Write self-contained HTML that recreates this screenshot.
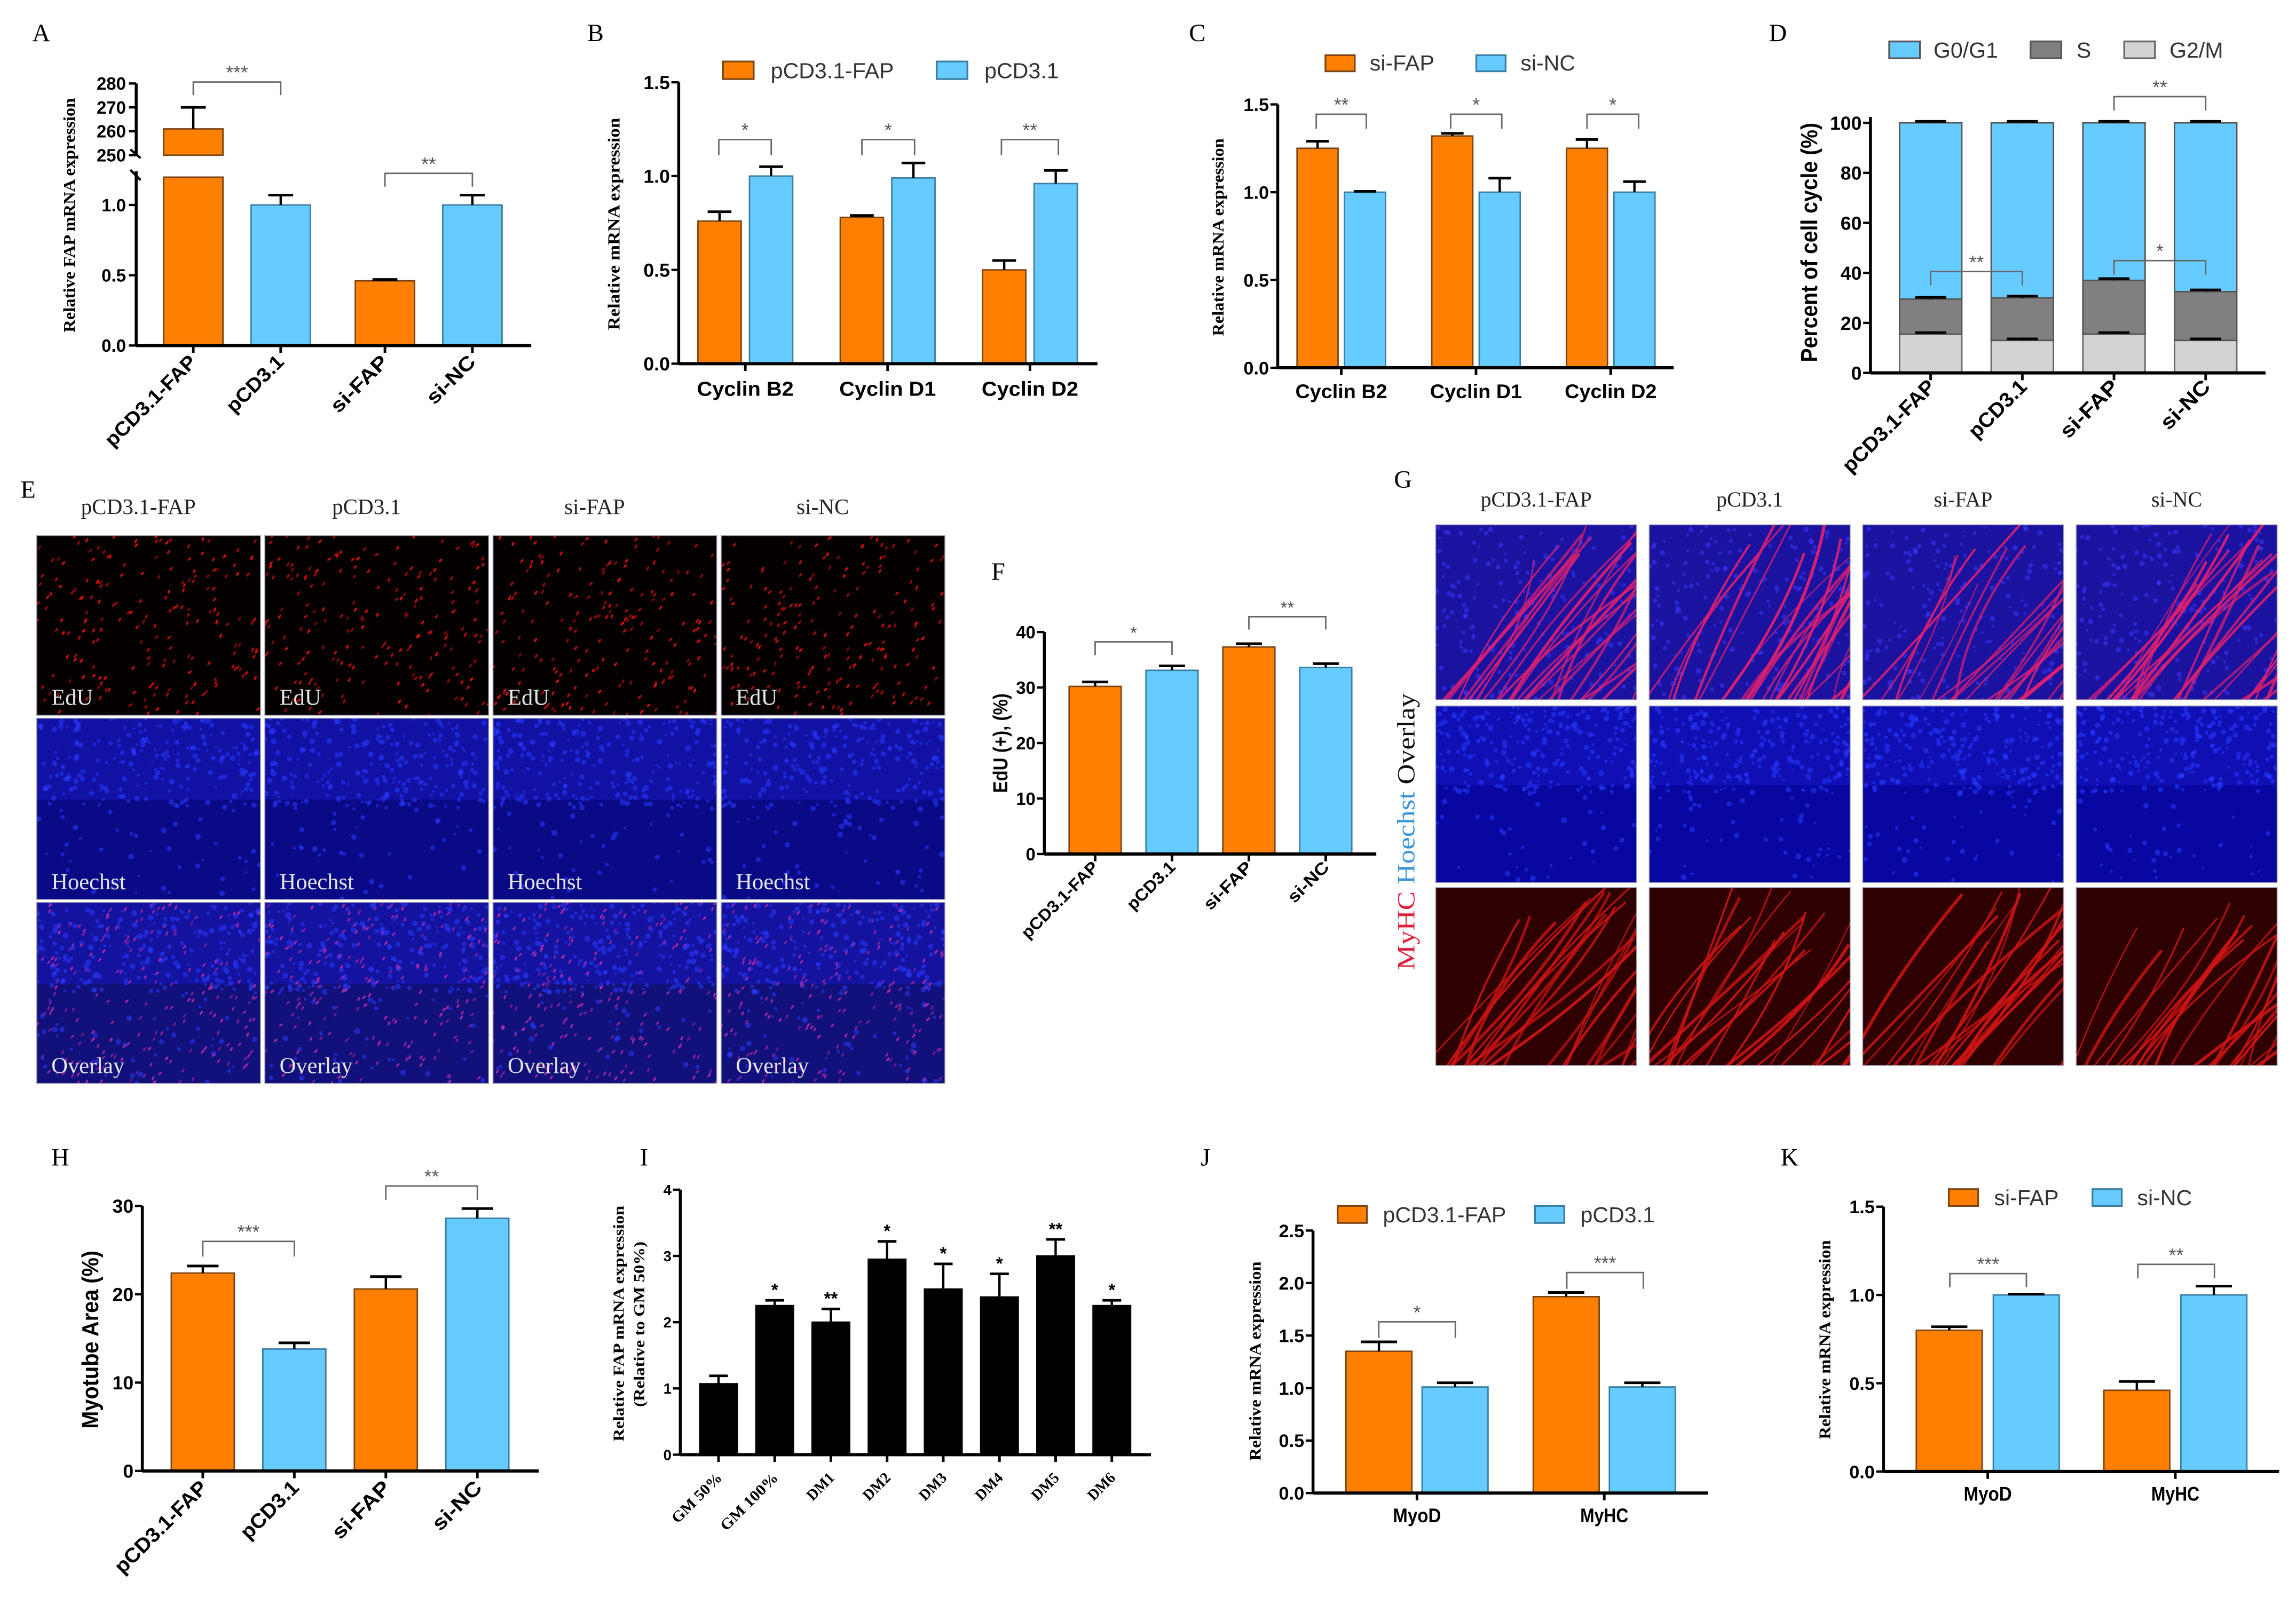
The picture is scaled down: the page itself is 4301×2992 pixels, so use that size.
<!DOCTYPE html>
<html><head><meta charset="utf-8"><title>FAP figure</title>
<style>html,body{margin:0;padding:0;background:#fff;}svg{display:block;}</style></head>
<body>
<svg id="fig" xmlns="http://www.w3.org/2000/svg" width="4301" height="2992" viewBox="0 0 1568 1090.8" preserveAspectRatio="none">
<rect x="0" y="0" width="1568" height="1091" fill="#fff"/>
</svg>
<script>
// ===== Panel data =====
const aCategories=["pCD3.1-FAP","pCD3.1","si-FAP","si-NC"];
const aValues=[261,1.0,0.46,1.0];
const aErrors=[9,0.07,0.01,0.07];
const aLowerTicks=[0,0.5,1.0];
const aUpperTicks=[250,260,270,280];

const bCategories=["Cyclin B2","Cyclin D1","Cyclin D2"];
const bSeries1=[0.76,0.78,0.5];
const bErr1=[0.05,0.01,0.05];
const bSeries2=[1.0,0.99,0.96];
const bErr2=[0.05,0.08,0.07];
const bTicks=[0,0.5,1.0,1.5];

const cCategories=["Cyclin B2","Cyclin D1","Cyclin D2"];
const cSeries1=[1.25,1.32,1.25];
const cErr1=[0.04,0.015,0.05];
const cSeries2=[1.0,1.0,1.0];
const cErr2=[0.005,0.08,0.06];
const cTicks=[0,0.5,1.0,1.5];

const dCategories=["pCD3.1-FAP","pCD3.1","si-FAP","si-NC"];
const dG2M=[15.5,13,15.5,13];
const dS=[14,17,21.5,19.5];
const dG0G1=[70.5,70,63,67.5];
const dTicks=[0,20,40,60,80,100];

const fCategories=["pCD3.1-FAP","pCD3.1","si-FAP","si-NC"];
const fValues=[30.2,33.1,37.3,33.6];
const fErrors=[0.8,0.8,0.6,0.7];
const fTicks=[0,10,20,30,40];

const hCategories=["pCD3.1-FAP","pCD3.1","si-FAP","si-NC"];
const hValues=[22.4,13.8,20.6,28.6];
const hErrors=[0.8,0.7,1.4,1.1];
const hTicks=[0,10,20,30];

const iCategories=["GM 50%","GM 100%","DM1","DM2","DM3","DM4","DM5","DM6"];
const iValues=[1.07,2.25,2.0,2.95,2.5,2.38,3.0,2.25];
const iErrors=[0.12,0.08,0.2,0.27,0.38,0.35,0.25,0.08];
const iStars=["","*","**","*","*","*","**","*"];
const iTicks=[0,1,2,3,4];

const jCategories=["MyoD","MyHC"];
const jSeries1=[1.35,1.87];
const jErr1=[0.09,0.04];
const jSeries2=[1.01,1.01];
const jErr2=[0.04,0.04];
const jTicks=[0,0.5,1.0,1.5,2.0,2.5];

const kCategories=["MyoD","MyHC"];
const kSeries1=[0.80,0.46];
const kErr1=[0.02,0.05];
const kSeries2=[1.0,1.0];
const kErr2=[0.005,0.05];
const kTicks=[0,0.5,1.0,1.5];

// ===== helpers =====
const NS="http://www.w3.org/2000/svg";
const svg=document.getElementById('fig');
const SANS='"Liberation Sans", Arial, sans-serif';
const SERIF='"Liberation Serif", "Times New Roman", serif';
const OR='#FF8000', ORS='#7a4416', BL='#66CCFF', BLS='#3a7ea3';
function mk(tag,attrs,name,parent){
  const el=document.createElementNS(NS,tag);
  for(const k in attrs) el.setAttribute(k,attrs[k]);
  
  
  (parent||svg).appendChild(el);
  return el;
}
function group(name){return mk('g',{},name);}
function ln(p,x1,y1,x2,y2,w,c,name){return mk('line',{x1,y1,x2,y2,stroke:c||'#000','stroke-width':w||1},name,p);}
function tx(p,x,y,s,fs,o,name){const el=mk('text',Object.assign({x,y,'font-size':fs,'font-family':SANS},o||{}),name,p);el.textContent=s;return el;}
function bar(p,xc,w,yTop,yBot,fill,stroke,name){return mk('rect',{x:xc-w/2,y:Math.min(yTop,yBot),width:w,height:Math.abs(yBot-yTop),fill,stroke,'stroke-width':1},name,p);}
function err(p,xc,yTop,yErr,cap,name){
  const g=mk('g',{},name,p);
  ln(g,xc,yTop,xc,yErr,1.6,'#000','error-stem');
  ln(g,xc-cap/2,yErr,xc+cap/2,yErr,1.8,'#000','error-cap');
}
function axisY(p,x,yTop,yBot,ticks,yf,fmt,fs,name){
  const g=mk('g',{},name,p);
  ln(g,x,yTop,x,yBot,2,'#000','y-axis-line');
  ticks.forEach(t=>{
    ln(g,x-5,yf(t),x,yf(t),1.6,'#000','y-tick');
    tx(g,x-6,yf(t)+fs*0.36,fmt(t),fs,{'text-anchor':'end','font-weight':'bold'},'y-tick-label');
  });
  return g;
}
function axisX(p,x0,x1,y,centers,name){
  const g=mk('g',{},name,p);
  ln(g,x0,y,x1,y,2.2,'#000','x-axis-line');
  centers.forEach(c=>ln(g,c,y,c,y+5,1.8,'#000','x-tick'));
  return g;
}
function bracket(p,x1,x2,y,yLeg,label,fs,name){
  const g=mk('g',{},name,p);
  mk('path',{d:`M${x1} ${yLeg} L${x1} ${y} L${x2} ${y} L${x2} ${yLeg}`,fill:'none',stroke:'#666','stroke-width':1},'bracket-line',g);
  tx(g,(x1+x2)/2,y-2,label,fs||12,{'text-anchor':'middle',fill:'#555'},'significance-stars');
}
function rotLabel(p,x,y,s,fs,len,font,name){
  const el=tx(p,x,y,s,fs,{'text-anchor':'end','font-weight':'bold','font-family':font||SANS,transform:`rotate(-45 ${x} ${y})`,textLength:len,lengthAdjust:'spacingAndGlyphs'},name);
  return el;
}
function yTitle(p,x,cy,s,fs,len,font,name){
  return tx(p,x,cy,s,fs,{'text-anchor':'middle','font-weight':'bold','font-family':font,transform:`rotate(-90 ${x} ${cy})`,textLength:len,lengthAdjust:'spacingAndGlyphs'},name);
}
function legendItem(p,x,y,w,h,fill,stroke,tX,label,fs,name){
  const g=mk('g',{},name,p);
  mk('rect',{x,y,width:w,height:h,fill,stroke,'stroke-width':1.2},'legend-swatch',g);
  tx(g,tX,y+h-0.5,label,fs,{fill:'#333'},'legend-label');
}
function letter(x,y,s){tx(svg,x,y,s,17,{'font-family':SERIF},'panel-letter-'+s.toLowerCase());}

// ===== Panel A =====
(function(){
  const p=group('panel-a');
  const yA=v=> v<=1.3 ? 236-96*v : 106-(v-250)*1.633;
  const xA=i=>132+i*59.7+(i>=2?11.5:0);
  const cols=[OR,BL,OR,BL], strs=[ORS,BLS,ORS,BLS];
  aCategories.forEach((c,i)=>{
    const v=aValues[i];
    if(v>200){
      bar(p,xA(i),40.5,121,236,cols[i],strs[i],'bar-'+c);
      bar(p,xA(i),40.5,yA(v),106,cols[i],strs[i],'bar-upper-'+c);
    } else bar(p,xA(i),40.5,yA(v),236,cols[i],strs[i],'bar-'+c);
    err(p,xA(i),yA(v),yA(v+aErrors[i]),17,'error-bar-'+c);
    rotLabel(p,xA(i)+3,248,c,13.5,c.length*8.2,SANS,'x-label-'+c);
  });
  const g=mk('g',{},'y-axis-a',p);
  ln(g,93,57,93,106,2,'#000','y-axis-upper');
  ln(g,93,117,93,236,2,'#000','y-axis-lower');
  ln(g,89,102,96,108,1.6,'#000','axis-break');
  ln(g,89,116,96,123,1.6,'#000','axis-break');
  aLowerTicks.forEach(t=>{ln(g,88,yA(t),93,yA(t),1.6,'#000','y-tick');tx(g,86,yA(t)+4.3,t.toFixed(1),12,{'text-anchor':'end','font-weight':'bold'},'y-tick-label');});
  aUpperTicks.forEach(t=>{ln(g,88,yA(t),93,yA(t),1.6,'#000','y-tick');tx(g,86,yA(t)+4.3,String(t),12,{'text-anchor':'end','font-weight':'bold'},'y-tick-label');});
  axisX(p,93,362.8,236,aCategories.map((c,i)=>xA(i)),'x-axis-a');
  bracket(p,xA(0),xA(1),56,65,'***',13,'sig-a-1');
  bracket(p,xA(2),xA(3),118.4,127.5,'**',13,'sig-a-2');
  yTitle(p,51,147,'Relative FAP mRNA expression',11,160,SERIF,'y-axis-title-a');
})();
letter(22,28,'A');

// ===== grouped bar panel helper =====
function grouped(name,cats,s1,e1,s2,e2,ticks,geo){
  const p=group(name);
  const yf=v=>geo.y0-(v-ticks[0])/(ticks[ticks.length-1]-ticks[0])*(geo.y0-geo.yTop);
  const gx=i=>geo.c0+i*geo.step;
  cats.forEach((c,i)=>{
    const xo=gx(i)-geo.off, xb=gx(i)+geo.off;
    bar(p,xo,geo.w,yf(s1[i]),geo.y0,OR,ORS,'bar-'+geo.n1+'-'+c);
    bar(p,xb,geo.w,yf(s2[i]),geo.y0,BL,BLS,'bar-'+geo.n2+'-'+c);
    err(p,xo,yf(s1[i]),yf(s1[i]+e1[i]),geo.w*0.55,'error-bar-'+geo.n1+'-'+c);
    err(p,xb,yf(s2[i]),yf(s2[i]+e2[i]),geo.w*0.55,'error-bar-'+geo.n2+'-'+c);
    tx(p,gx(i),geo.labY,c,geo.labFs,{'text-anchor':'middle','font-weight':'bold',textLength:geo.labLen*c.length/9,lengthAdjust:'spacingAndGlyphs'},'x-label-'+c);
  });
  axisY(p,geo.ax,geo.yTop,geo.y0,ticks,yf,t=>t.toFixed(1),geo.tickFs,'y-axis');
  axisX(p,geo.ax,geo.axEnd,geo.y0,cats.map((c,i)=>gx(i)),'x-axis');
  return {p,yf,gx};
}

// ===== Panel B =====
(function(){
  const r=grouped('panel-b',bCategories,bSeries1,bErr1,bSeries2,bErr2,bTicks,
    {y0:248.4,yTop:56.2,c0:509,step:97.2,off:17.6,w:29.5,ax:463.5,axEnd:749.5,labY:270.4,labFs:14,labLen:66,tickFs:13,n1:'pCD3.1-FAP',n2:'pCD3.1'});
  const p=r.p;
  const stars=['*','*','**'];
  const bx=[[490.9,526.7],[588.6,624.6],[683.9,722.8]];
  bx.forEach((b,i)=>bracket(p,b[0],b[1],95.4,105.9,stars[i],13,'sig-b-'+(i+1)));
  legendItem(p,493.7,42,21,12,OR,ORS,526.3,'pCD3.1-FAP',15,'legend-pcd31-fap');
  legendItem(p,639.7,42,21,12,BL,BLS,672.3,'pCD3.1',15,'legend-pcd31');
  yTitle(p,423,153,'Relative mRNA expression',11.5,145,SERIF,'y-axis-title-b');
})();
letter(401,28,'B');

// ===== Panel C =====
(function(){
  const r=grouped('panel-c',cCategories,cSeries1,cErr1,cSeries2,cErr2,cTicks,
    {y0:251.2,yTop:71.3,c0:916,step:92,off:16.2,w:28,ax:872.6,axEnd:1143,labY:272,labFs:13.5,labLen:62.8,tickFs:12.5,n1:'si-FAP',n2:'si-NC'});
  const p=r.p;
  const stars=['**','*','*'];
  const bx=[[898.9,933.1],[990.7,1025.6],[1083.8,1119.1]];
  bx.forEach((b,i)=>bracket(p,b[0],b[1],78,88,stars[i],13,'sig-c-'+(i+1)));
  legendItem(p,905.2,37.7,20,11,OR,ORS,935.4,'si-FAP',15,'legend-si-fap');
  legendItem(p,1008.2,37.7,20,11,BL,BLS,1038.4,'si-NC',15,'legend-si-nc');
  yTitle(p,835.5,162,'Relative mRNA expression',11,135,SERIF,'y-axis-title-c');
})();
letter(812,28,'C');

// ===== Panel D =====
(function(){
  const p=group('panel-d');
  const y0=254.7, yTop=83.9;
  const yf=v=>y0-v/100*(y0-yTop);
  const xf=i=>1318.5+i*62.6;
  const w=42.5;
  dCategories.forEach((c,i)=>{
    const a=dG2M[i], b=a+dS[i], t=b+dG0G1[i];
    bar(p,xf(i),w,yf(a),yf(0),'#D3D3D3','#666','bar-g2m-'+c);
    bar(p,xf(i),w,yf(b),yf(a),'#808080','#555','bar-s-'+c);
    bar(p,xf(i),w,yf(t),yf(b),BL,'#555','bar-g0g1-'+c);
    err(p,xf(i),yf(a),yf(a+0.6),w*0.5,'error-bar-g2m-'+c);
    err(p,xf(i),yf(b),yf(b+0.7),w*0.5,'error-bar-s-'+c);
    err(p,xf(i),yf(t),yf(t+0.6),w*0.5,'error-bar-g0g1-'+c);
    rotLabel(p,xf(i)+4,265,c,14,c.length*8.3,SANS,'x-label-'+c);
  });
  axisY(p,1277.4,yTop-4,y0,dTicks,yf,t=>String(t),13,'y-axis-d');
  axisX(p,1277.4,1547.2,y0,dCategories.map((c,i)=>xf(i)),'x-axis-d');
  bracket(p,xf(2),xf(3),66,75.5,'**',13,'sig-d-top');
  bracket(p,xf(0),xf(1),185.5,195,'**',13,'sig-d-low1');
  bracket(p,xf(2),xf(3),178,187.6,'*',13,'sig-d-low2');
  legendItem(p,1290.2,28.3,21,11.5,BL,'#555',1320.4,'G0/G1',15,'legend-g0g1');
  legendItem(p,1386.7,28.3,21,11.5,'#808080','#555',1418.1,'S',15,'legend-s');
  legendItem(p,1450.7,28.3,21,11.5,'#D3D3D3','#666',1481.6,'G2/M',15,'legend-g2m');
  yTitle(p,1241,165.6,'Percent of cell cycle (%)',16,163.5,SANS,'y-axis-title-d');
})();
letter(1208,28,'D');

// ===== single series helper =====
function single(name,cats,vals,errs,ticks,geo){
  const p=group(name);
  const yf=v=>geo.y0-(v-ticks[0])/(ticks[ticks.length-1]-ticks[0])*(geo.y0-geo.yTop);
  const xf=i=>geo.c0+i*geo.step;
  cats.forEach((c,i)=>{
    const col=geo.colors? geo.colors[i%2] : '#000';
    const st=geo.colors? geo.strokes[i%2] : '#000';
    bar(p,xf(i),geo.w,yf(vals[i]),geo.y0,col,st,'bar-'+c);
    err(p,xf(i),yf(vals[i]),yf(vals[i]+errs[i]),geo.w*0.5,'error-bar-'+c);
    rotLabel(p,xf(i)+geo.lx,geo.labY,c,geo.labFs,c.length*geo.charW,geo.font,'x-label-'+c);
  });
  axisY(p,geo.ax,geo.yTop,geo.y0,ticks,yf,geo.fmt||(t=>String(t)),geo.tickFs,'y-axis');
  axisX(p,geo.ax,geo.axEnd,geo.y0,cats.map((c,i)=>xf(i)),'x-axis');
  return {p,yf,xf};
}

// ===== Panel F =====
(function(){
  const r=single('panel-f',fCategories,fValues,fErrors,fTicks,
    {y0:583.3,yTop:431.7,c0:747.9,step:52.5,w:35.5,ax:713.2,axEnd:939.9,labY:593,labFs:11.5,charW:6.9,lx:3,tickFs:12,colors:[OR,BL],strokes:[ORS,BLS]});
  bracket(r.p,r.xf(0),r.xf(1),438.4,447.4,'*',12,'sig-f-1');
  bracket(r.p,r.xf(2),r.xf(3),421.2,430,'**',12,'sig-f-2');
  yTitle(r.p,688,507.6,'EdU (+), (%)',14,68,SANS,'y-axis-title-f');
})();
letter(677,396,'F');

// ===== Panel H =====
(function(){
  const r=single('panel-h',hCategories,hValues,hErrors,hTicks,
    {y0:1004.7,yTop:823.7,c0:138.5,step:62.5,w:43,ax:97.2,axEnd:368,labY:1017,labFs:14,charW:8.3,lx:4,tickFs:13,colors:[OR,BL],strokes:[ORS,BLS]});
  bracket(r.p,r.xf(0),r.xf(1),847.9,858.3,'***',13,'sig-h-1');
  bracket(r.p,r.xf(2),r.xf(3),810.1,819.6,'**',13,'sig-h-2');
  yTitle(r.p,67,915,'Myotube Area (%)',16,121.6,SANS,'y-axis-title-h');
})();
letter(35,796,'H');

// ===== Panel I =====
(function(){
  const r=single('panel-i',iCategories,iValues,iErrors,iTicks,
    {y0:993.6,yTop:812.6,c0:490.7,step:38.37,w:25.6,ax:464.6,axEnd:786,labY:1010,labFs:10.5,charW:7.3,lx:3,tickFs:10,font:SERIF});
  iCategories.forEach((c,i)=>{
    if(iStars[i]) tx(r.p,r.xf(i),r.yf(iValues[i]+iErrors[i])-3,iStars[i],12,{'text-anchor':'middle','font-weight':'bold'},'significance-'+c);
  });
  yTitle(r.p,426,904,'Relative FAP mRNA expression',10.5,161,SERIF,'y-axis-title-i-line1');
  yTitle(r.p,440,904.5,'(Relative to GM 50%)',10.5,113,SERIF,'y-axis-title-i-line2');
})();
letter(437,796,'I');

// ===== Panel J =====
(function(){
  const r=grouped('panel-j',jCategories,jSeries1,jErr1,jSeries2,jErr2,jTicks,
    {y0:1019.8,yTop:840.5,c0:967.7,step:127.9,off:26,w:45,ax:896.7,axEnd:1166.5,labY:1039.7,labFs:13.5,labLen:74,tickFs:12.5,n1:'pCD3.1-FAP',n2:'pCD3.1'});
  bracket(r.p,941.6,993.9,902.8,913.9,'*',13,'sig-j-1');
  bracket(r.p,1070,1122.3,869.2,880.3,'***',13,'sig-j-2');
  legendItem(r.p,913.5,823.7,20,11.6,OR,ORS,944.4,'pCD3.1-FAP',15,'legend-pcd31-fap');
  legendItem(r.p,1048.3,823.7,20,11.6,BL,BLS,1079.3,'pCD3.1',15,'legend-pcd31');
  yTitle(r.p,861,929.6,'Relative mRNA expression',11,136,SERIF,'y-axis-title-j');
})();
letter(820,796,'J');

// ===== Panel K =====
(function(){
  const r=grouped('panel-k',kCategories,kSeries1,kErr1,kSeries2,kErr2,kTicks,
    {y0:1005.1,yTop:824.2,c0:1357.5,step:128.1,off:26.3,w:45,ax:1286.3,axEnd:1556.5,labY:1025,labFs:13.5,labLen:74,tickFs:12.5,n1:'si-FAP',n2:'si-NC'});
  bracket(r.p,1331.6,1383.9,869.9,879.3,'***',13,'sig-k-1');
  bracket(r.p,1460,1512.3,863.6,873,'**',13,'sig-k-2');
  legendItem(r.p,1330.9,812.2,20,11.5,OR,ORS,1361.8,'si-FAP',15,'legend-si-fap');
  legendItem(r.p,1429,812.2,20,11.5,BL,BLS,1459.5,'si-NC',15,'legend-si-nc');
  yTitle(r.p,1250,915,'Relative mRNA expression',11,136,SERIF,'y-axis-title-k');
})();
letter(1216,796,'K');

// ===== microscopy textures (decorative) =====
let seed=12345;
function rnd(){seed=(seed*1103515245+12345)%2147483648;return seed/2147483648;}
function tile(p,x,y,w,h,kind,name){
  const g=mk('g',{},name,p);
  const cid='clip'+Math.floor(x)+'_'+Math.floor(y);
  const cp=mk('clipPath',{id:cid},'clip',g);
  mk('rect',{x,y,width:w,height:h},'clip-rect',cp);
  const inner=mk('g',{'clip-path':`url(#${cid})`},'tile-content',g);
  const bg={red:'#050000',blue:'#0a0a86',ovl:'#12107a',gov:'#1c12a0',gblue:'#0808a0',gred:'#2e0202'}[kind];
  mk('rect',{x,y,width:w,height:h,fill:bg},'tile-bg',inner);
  if(kind==='blue'||kind==='ovl'||kind==='gblue'){
    mk('rect',{x,y,width:w,height:h*0.45,fill:kind==='gblue'?'#1414c0':'#1616b8',opacity:0.6},'tile-bright',inner);
    for(let k=0;k<260;k++){
      const cx=x+rnd()*w, cy=y+rnd()*h*(rnd()<0.7?0.5:1);
      mk('circle',{cx,cy,r:0.8+rnd()*1.2,fill:'#2a3aff',opacity:0.55},'nucleus',inner);
    }
  }
  if(kind==='red'||kind==='ovl'){
    const c=kind==='red'?'#e01010':'#b02aa8';
    for(let k=0;k<200;k++){
      const cx=x+rnd()*w, cy=y+rnd()*h;
      mk('ellipse',{cx,cy,rx:1.6,ry:0.7,fill:c,opacity:0.5+rnd()*0.5,transform:`rotate(${-40-rnd()*30} ${cx} ${cy})`},'edu-nucleus',inner);
    }
  }
  if(kind==='gov'||kind==='gred'){
    if(kind==='gov') for(let k=0;k<180;k++){mk('circle',{cx:x+rnd()*w,cy:y+rnd()*h,r:0.9+rnd(),fill:'#3a3aff',opacity:0.5},'nucleus',inner);}
    const c=kind==='gov'?'#e0206e':'#d01414';
    for(let k=0;k<26;k++){
      const sx=x+rnd()*w*1.2-w*0.1, sy=y+h+5, ex=sx+w*(0.3+rnd()*0.6), ey=y-5+rnd()*h*0.4;
      const qx=(sx+ex)/2+(rnd()-0.5)*40, qy=(sy+ey)/2;
      mk('path',{d:`M${sx} ${sy} Q${qx} ${qy} ${ex} ${ey}`,fill:'none',stroke:c,'stroke-width':0.8+rnd()*1.4,opacity:0.65+rnd()*0.3},'myotube',inner);
    }
  }
  mk('rect',{x,y,width:w,height:h,fill:'none',stroke:'#9a9ab0','stroke-width':0.6},'tile-border',g);
  return g;
}

// ===== Panel E =====
(function(){
  const p=group('panel-e');
  const heads=["pCD3.1-FAP","pCD3.1","si-FAP","si-NC"];
  const rowsY=[[365.8,488.5],[490.6,614.3],[616.4,740]];
  const kinds=['red','blue','ovl'];
  const labels=['EdU','Hoechst','Overlay'];
  heads.forEach((h,c)=>{
    const x0=25.1+c*155.8, w=152.8;
    tx(p,x0+w/2-7,351,h,15,{'text-anchor':'middle','font-family':SERIF,fill:'#222'},'column-header-'+h);
    rowsY.forEach((r,j)=>{
      tile(p,x0,r[0],w,r[1]-r[0],kinds[j],'image-e-'+h+'-'+labels[j]);
      tx(p,x0+10,r[1]-7,labels[j],15.5,{'font-family':SERIF,fill:'#e6e6e6'},'image-label-'+labels[j]);
    });
  });
})();
letter(14,340,'E');

// ===== Panel G =====
(function(){
  const p=group('panel-g');
  const heads=["pCD3.1-FAP","pCD3.1","si-FAP","si-NC"];
  const rowsY=[[358.5,478],[482.2,602.8],[606.3,727.7]];
  const kinds=['gov','gblue','gred'];
  heads.forEach((h,c)=>{
    const x0=980.5+c*145.8, w=137.2;
    tx(p,x0+w/2,346,h,14.5,{'text-anchor':'middle','font-family':SERIF,fill:'#222'},'column-header-'+h);
    rowsY.forEach((r,j)=>tile(p,x0,r[0],w,r[1]-r[0],kinds[j],'image-g-'+h+'-row'+(j+1)));
  });
  const t=mk('text',{x:966,y:568,'font-size':17,'font-family':SERIF,'text-anchor':'middle',transform:'rotate(-90 966 568)',textLength:189,lengthAdjust:'spacingAndGlyphs'},'row-label-stain',p);
  const s1=mk('tspan',{fill:'#e0203a'},'label-myhc',t); s1.textContent='MyHC ';
  const s2=mk('tspan',{fill:'#3a96d8'},'label-hoechst',t); s2.textContent='Hoechst ';
  const s3=mk('tspan',{fill:'#111'},'label-overlay',t); s3.textContent='Overlay';
})();
letter(952,333,'G');
</script>
</body></html>
